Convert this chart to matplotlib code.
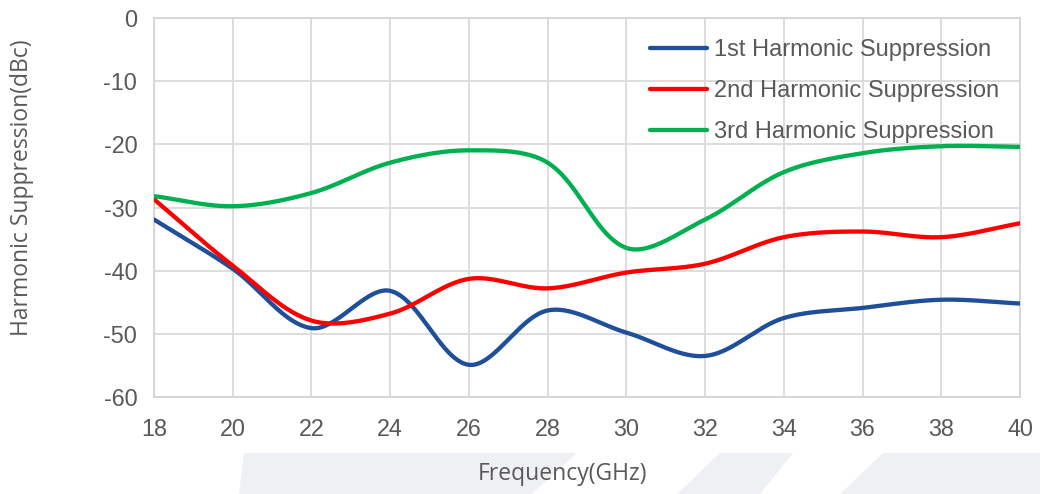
import numpy as np
import matplotlib
matplotlib.use("Agg")
import matplotlib.pyplot as plt
from matplotlib.patches import Polygon

plt.rcParams["axes.unicode_minus"] = False

# ---- data ----
freq = [18, 20, 22, 24, 26, 28, 30, 32, 34, 36, 38, 40]
h1 = [-31.9, -39.7, -49.1, -43.2, -54.9, -46.3, -49.8, -53.5, -47.5, -45.9, -44.6, -45.2]
h2 = [-28.7, -39.2, -47.9, -46.8, -41.3, -42.8, -40.3, -38.9, -34.7, -33.8, -34.7, -32.5]
h3 = [-28.2, -29.8, -27.7, -22.9, -20.95, -22.9, -36.4, -31.9, -24.4, -21.4, -20.3, -20.4]
series_names = ["1st Harmonic Suppression", "2nd Harmonic Suppression", "3rd Harmonic Suppression"]
series_colors = ["#1F4E9A", "#FF0000", "#00B050"]
xticks = list(range(18, 41, 2))
yticks = list(range(-60, 1, 10))

W, H = 1040, 494
AX_L, AX_R, AX_T, AX_B = 154, 1020, 18, 397


def excel_smooth(x, y, sx, sy, n=50):
    """Spreadsheet-style smoothed line: cubic Bezier per segment, control
    points weighted by neighbouring segment lengths (in screen units)."""
    P = np.column_stack([np.asarray(x, float) * sx, np.asarray(y, float) * sy])
    Pe = np.vstack([P[0], P, P[-1]])
    t = np.linspace(0, 1, n)[:, None]
    out = []
    for i in range(len(P) - 1):
        p0, p1, p2, p3 = Pe[i], Pe[i + 1], Pe[i + 2], Pe[i + 3]
        d01 = np.hypot(*(p1 - p0))
        d12 = np.hypot(*(p2 - p1))
        d23 = np.hypot(*(p3 - p2))
        c1 = p1 + (p2 - p0) / 3.0 * d12 / (d01 + d12)
        c2 = p2 - (p3 - p1) / 3.0 * d12 / (d12 + d23)
        seg = (1 - t) ** 3 * p1 + 3 * (1 - t) ** 2 * t * c1 + 3 * (1 - t) * t ** 2 * c2 + t ** 3 * p2
        out.append(seg if i == 0 else seg[1:])
    s = np.vstack(out)
    return s[:, 0] / sx, s[:, 1] / sy


def fx(px):
    return px / W


def fy(py):
    return 1 - py / H


fig = plt.figure(figsize=(W / 100, H / 100), dpi=100)
fig.patch.set_facecolor("white")

# faint watermark band at the bottom
band_gray = "#EFF0F4"
fig.add_artist(Polygon([(fx(244), fy(453)), (fx(1040), fy(453)), (fx(1040), fy(494)), (fx(239), fy(494))],
                       closed=True, transform=fig.transFigure, facecolor=band_gray, edgecolor="none", zorder=0))
stripes = [((577, 720), (532, 677)), ((793, 883), (760, 840))]
for (top, bot) in stripes:
    fig.add_artist(Polygon([(fx(top[0]), fy(453)), (fx(top[1]), fy(453)), (fx(bot[1]), fy(494)), (fx(bot[0]), fy(494))],
                           closed=True, transform=fig.transFigure, facecolor="white", edgecolor="none", zorder=0.5))

ax = fig.add_axes([fx(AX_L), fy(AX_B), (AX_R - AX_L) / W, (AX_B - AX_T) / H])
ax.set_zorder(2)
ax.set_xlim(18, 40)
ax.set_ylim(-60, 0)

px_per_x = (AX_R - AX_L) / (40 - 18)
px_per_y = (AX_B - AX_T) / 60.0
for ys, name, col in zip([h1, h2, h3], series_names, series_colors):
    sx_, sy_ = excel_smooth(freq, ys, px_per_x, px_per_y)
    ax.plot(sx_, sy_, color=col, lw=3.1, label=name, solid_capstyle="round", zorder=3)

ax.set_xticks(xticks)
ax.set_yticks(yticks)
ax.grid(True, color="#DADADA", lw=1.3, zorder=0)
for sp in ax.spines.values():
    sp.set_color("#D5D5D5")
    sp.set_linewidth(1.3)
ax.tick_params(length=0, labelcolor="#595959", labelsize=16.8)
ax.tick_params(axis="y", pad=12)
ax.tick_params(axis="x", pad=15)
for lab in ax.get_xticklabels() + ax.get_yticklabels():
    lab.set_fontfamily("Liberation Sans")

leg = ax.legend(loc="upper left", bbox_to_anchor=(fx(650), fy(39)), bbox_transform=fig.transFigure,
                frameon=False, borderpad=0, borderaxespad=0, handlelength=2.41, handletextpad=0.3,
                labelspacing=0.80, prop={"family": "Liberation Sans", "size": 17})
for t in leg.get_texts():
    t.set_color("#595959")

fig.text(fx(22), fy(188), "Harmonic Suppression(dBc)", rotation=90, ha="center", va="center",
         family="Open Sans", fontsize=16.5, color="#595959")
fig.text(fx(563), fy(474), "Frequency(GHz)", ha="center", va="center",
         family="Open Sans", fontsize=16.5, color="#595959")

fig.savefig("out.png", dpi=100, facecolor="white")
